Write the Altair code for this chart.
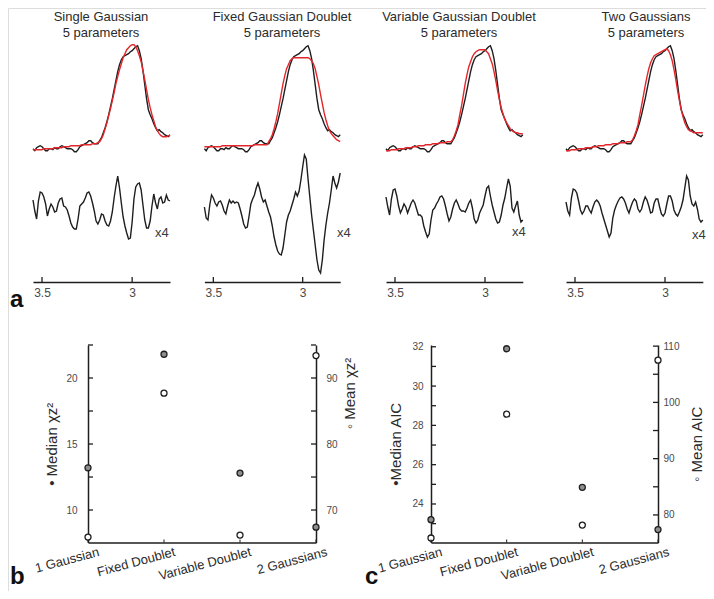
import altair as alt
import pandas as pd

# ---------------- data ----------------
PPM = [3.55, 3.54, 3.53, 3.52, 3.51, 3.50, 3.49, 3.48, 3.47, 3.46,
       3.45, 3.44, 3.43, 3.42, 3.41, 3.40, 3.39, 3.38, 3.37, 3.36,
       3.35, 3.34, 3.33, 3.32, 3.31, 3.30, 3.29, 3.28, 3.27, 3.26,
       3.25, 3.24, 3.23, 3.22, 3.21, 3.20, 3.19, 3.18, 3.17, 3.16,
       3.15, 3.14, 3.13, 3.12, 3.11, 3.10, 3.09, 3.08, 3.07, 3.06,
       3.05, 3.04, 3.03, 3.02, 3.01, 3.00, 2.99, 2.98, 2.97, 2.96,
       2.95, 2.94, 2.93, 2.92, 2.91, 2.90, 2.89, 2.88, 2.87, 2.86,
       2.85, 2.84, 2.83, 2.82, 2.81, 2.80, 2.79]

SPECTRUM = [-0.02, -0.04, -0.01, 0.00, 0.01, 0.00, -0.02, -0.04, -0.04, -0.02,
            -0.02, -0.03, -0.01, -0.02, -0.02, 0.00, 0.01, 0.00, -0.01, -0.02,
            -0.02, -0.02, -0.03, -0.05, -0.05, -0.03, 0.00, 0.01, 0.02, 0.03,
            0.04, 0.06, 0.06, 0.04, 0.03, 0.03, 0.03, 0.06, 0.09, 0.14,
            0.19, 0.25, 0.32, 0.40, 0.48, 0.57, 0.66, 0.75, 0.82, 0.87,
            0.90, 0.91, 0.92, 0.93, 0.95, 0.96, 0.98, 1.00, 1.01, 0.96,
            0.88, 0.76, 0.62, 0.48, 0.37, 0.32, 0.28, 0.23, 0.19, 0.16,
            0.17, 0.15, 0.14, 0.12, 0.11, 0.10, 0.12]

FIT_SINGLE = [-0.03, -0.03, -0.03, -0.03, -0.03, -0.03, -0.02, -0.02, -0.02, -0.02,
              -0.02, -0.02, -0.01, -0.01, -0.01, -0.01, -0.01, 0.00, 0.00, 0.00,
              0.00, 0.01, 0.01, 0.01, 0.01, 0.01, 0.01, 0.02, 0.02, 0.02,
              0.02, 0.02, 0.02, 0.03, 0.03, 0.03, 0.04, 0.05, 0.08, 0.12,
              0.18, 0.24, 0.31, 0.38, 0.46, 0.54, 0.63, 0.70, 0.77, 0.83,
              0.89, 0.93, 0.97, 0.99, 1.01, 1.02, 1.02, 1.00, 0.96, 0.91,
              0.85, 0.76, 0.67, 0.57, 0.47, 0.39, 0.32, 0.26, 0.20, 0.16,
              0.13, 0.11, 0.10, 0.10, 0.10, 0.11, 0.11]

FIT_FIXED = [0.00, 0.00, 0.00, 0.00, 0.00, 0.00, 0.00, 0.00, 0.00, 0.00,
             0.01, 0.01, 0.01, 0.01, 0.01, 0.01, 0.01, 0.01, 0.01, 0.01,
             0.01, 0.01, 0.01, 0.01, 0.01, 0.01, 0.01, 0.01, 0.02, 0.02,
             0.02, 0.02, 0.02, 0.02, 0.02, 0.02, 0.05, 0.08, 0.12, 0.18,
             0.25, 0.33, 0.43, 0.53, 0.63, 0.71, 0.78, 0.82, 0.86, 0.88,
             0.89, 0.89, 0.89, 0.89, 0.89, 0.89, 0.89, 0.89, 0.89, 0.88,
             0.86, 0.83, 0.78, 0.70, 0.62, 0.52, 0.43, 0.34, 0.27, 0.21,
             0.16, 0.13, 0.11, 0.09, 0.07, 0.06, 0.05]

FIT_VARIABLE = [-0.04, -0.04, -0.04, -0.03, -0.03, -0.03, -0.03, -0.02, -0.02, -0.02,
                -0.02, -0.01, -0.01, -0.01, -0.01, 0.00, 0.00, 0.00, 0.01, 0.01,
                0.01, 0.01, 0.02, 0.02, 0.02, 0.02, 0.03, 0.03, 0.03, 0.03,
                0.04, 0.04, 0.04, 0.04, 0.05, 0.05, 0.05, 0.07, 0.11, 0.16,
                0.22, 0.32, 0.41, 0.52, 0.63, 0.72, 0.80, 0.85, 0.90, 0.93,
                0.95, 0.96, 0.97, 0.97, 0.97, 0.97, 0.95, 0.93, 0.88, 0.83,
                0.75, 0.66, 0.56, 0.47, 0.39, 0.33, 0.27, 0.24, 0.21, 0.18,
                0.16, 0.15, 0.14, 0.14, 0.13, 0.13, 0.13]

FIT_TWO = [-0.04, -0.04, -0.04, -0.03, -0.03, -0.03, -0.03, -0.02, -0.02, -0.02,
           -0.02, -0.01, -0.01, -0.01, -0.01, 0.00, 0.00, 0.00, 0.01, 0.01,
           0.01, 0.01, 0.02, 0.02, 0.02, 0.02, 0.03, 0.03, 0.03, 0.03,
           0.04, 0.04, 0.04, 0.04, 0.05, 0.05, 0.05, 0.07, 0.11, 0.16,
           0.22, 0.32, 0.41, 0.51, 0.61, 0.70, 0.78, 0.84, 0.88, 0.91,
           0.92, 0.93, 0.94, 0.95, 0.96, 0.97, 0.98, 0.96, 0.92, 0.86,
           0.77, 0.67, 0.56, 0.46, 0.37, 0.30, 0.24, 0.20, 0.17, 0.16,
           0.15, 0.14, 0.14, 0.14, 0.14, 0.14, 0.14]

# residuals (already multiplied by 4, as drawn)
RES_SINGLE = [0.10, -0.01, -0.09, 0.09, 0.18, 0.17, 0.13, 0.06, -0.06, 0.01,
              0.06, 0.03, -0.02, -0.01, 0.07, 0.11, 0.12, 0.04, 0.03, 0.00,
              -0.06, -0.13, -0.17, -0.19, -0.19, -0.09, 0.04, 0.06, 0.08, 0.12,
              0.17, 0.18, 0.14, 0.07, -0.01, -0.11, -0.14, -0.10, -0.04, -0.05,
              -0.11, -0.15, -0.16, -0.11, -0.02, 0.12, 0.24, 0.34, 0.22, 0.07,
              -0.07, -0.16, -0.23, -0.29, -0.28, -0.12, 0.11, 0.23, 0.26, 0.27,
              0.20, 0.05, -0.10, -0.18, -0.18, -0.11, 0.04, 0.16, 0.07, 0.01,
              0.11, 0.13, 0.07, 0.08, 0.15, 0.10, 0.09]

RES_FIXED = [0.03, -0.08, -0.10, 0.05, 0.15, 0.12, 0.07, 0.04, 0.08, 0.09,
             0.05, -0.01, -0.04, 0.04, 0.10, 0.07, 0.09, 0.07, 0.08, 0.07,
             0.01, -0.06, -0.14, -0.18, -0.17, -0.06, 0.06, 0.11, 0.15, 0.22,
             0.27, 0.21, 0.13, 0.08, 0.10, 0.04, -0.02, -0.07, -0.16, -0.27,
             -0.35, -0.41, -0.44, -0.45, -0.38, -0.25, -0.12, -0.05, -0.01, 0.05,
             0.11, 0.18, 0.14, 0.19, 0.30, 0.43, 0.55, 0.51, 0.31, 0.13,
             -0.05, -0.20, -0.35, -0.50, -0.60, -0.63, -0.50, -0.30, -0.15, -0.03,
             0.07, 0.20, 0.34, 0.27, 0.22, 0.28, 0.37]

RES_VARIABLE = [0.13, 0.03, -0.05, 0.11, 0.20, 0.21, 0.14, 0.04, -0.03, 0.01,
                0.06, 0.03, -0.03, 0.02, 0.07, 0.10, 0.07, 0.01, -0.05, -0.05,
                -0.07, -0.16, -0.22, -0.27, -0.24, -0.10, 0.00, 0.02, 0.06, 0.09,
                0.13, 0.14, 0.11, 0.04, -0.04, -0.11, -0.07, 0.01, 0.07, 0.10,
                0.06, 0.01, -0.01, -0.01, -0.02, 0.02, 0.07, 0.10, 0.02, -0.09,
                -0.13, -0.10, -0.03, 0.01, 0.05, 0.14, 0.22, 0.24, 0.14, 0.05,
                -0.02, -0.09, -0.13, -0.12, -0.05, 0.05, 0.12, 0.22, 0.31, 0.24,
                0.02, -0.02, 0.04, 0.09, -0.05, -0.12, -0.10]

RES_TWO = [0.08, -0.01, -0.05, 0.12, 0.21, 0.20, 0.17, 0.09, 0.00, -0.04,
           -0.01, 0.04, 0.04, 0.00, -0.03, 0.03, 0.08, 0.10, 0.08, 0.04,
           -0.03, -0.09, -0.15, -0.21, -0.27, -0.23, -0.08, 0.00, 0.05, 0.09,
           0.12, 0.13, 0.11, 0.07, 0.01, -0.03, 0.03, 0.08, 0.11, 0.09,
           0.01, -0.02, 0.01, 0.08, 0.13, 0.10, 0.04, -0.03, -0.02, 0.07,
           0.11, 0.11, 0.03, -0.04, -0.06, -0.03, 0.06, 0.14, 0.14, 0.09,
           0.00, -0.04, -0.06, -0.02, 0.03, 0.10, 0.22, 0.34, 0.30, 0.14,
           0.06, 0.04, 0.08, 0.01, -0.09, -0.12, -0.10]

PANEL_TITLES = ["Single Gaussian", "Fixed Gaussian Doublet",
                "Variable Gaussian Doublet", "Two Gaussians"]
PANEL_SUBTITLE = "5 parameters"
RES_SCALE_LABEL = "x4"
PPM_TICKS = [3.5, 3.0]

MODELS = ["1 Gaussian", "Fixed Doublet", "Variable Doublet", "2 Gaussians"]
MEDIAN_CHI2 = [13.2, 21.8, 12.8, 8.7]
MEAN_CHI2 = [65.9, 87.7, 66.2, 93.4]
MEDIAN_AIC = [23.2, 31.9, 24.85, 22.7]
MEAN_AIC = [75.9, 97.9, 78.2, 107.5]

FITS = [FIT_SINGLE, FIT_FIXED, FIT_VARIABLE, FIT_TWO]
RESIDUALS = [RES_SINGLE, RES_FIXED, RES_VARIABLE, RES_TWO]

# ---------------- layout (pixels inside the canvas) ----------------
W, H = 698, 583
FONT = "Liberation Sans"
INK = "#1e1e1e"
RED = "#e3262c"
LABEL = "#4a4a4a"

PANEL_X = [(25, 162), (196.4, 332.2), (378, 514.8), (558, 694.8)]
TITLE_CX = [93, 274, 451, 638]
X4_POS = [(147, 229), (329, 229), (504, 228), (684, 231)]
SPEC_RANGE = [138.7, 38.7]
RES_RANGE = [202, 102]
AXIS_Y = 274

layers = []


def text_layer(txt, x, y, size=13, align="center", weight="normal", color="#2b2b2b",
               baseline="alphabetic", angle=0):
    return alt.Chart(pd.DataFrame({"t": [txt]})).mark_text(
        font=FONT, fontSize=size, align=align, baseline=baseline,
        fontWeight=weight, color=color, angle=angle
    ).encode(text="t:N", x=alt.value(x), y=alt.value(y))


for i in range(4):
    x0, x1 = PANEL_X[i]
    xs = alt.Scale(domain=[2.79, 3.55], range=[x1, x0], nice=False, zero=False)
    ys = alt.Scale(domain=[0, 1], range=SPEC_RANGE, nice=False, zero=False)
    rs = alt.Scale(domain=[0, 1], range=RES_RANGE, nice=False, zero=False)
    df = pd.DataFrame({"ppm": PPM, "spec": SPECTRUM, "fit": FITS[i], "res": RESIDUALS[i]})
    xaxis = alt.Axis(orient="bottom", offset=AXIS_Y - H, values=PPM_TICKS, format=".1~f",
                     ticks=False, tickSize=0, grid=False, title=None, domain=True,
                     domainColor=INK, domainWidth=1.4, labelFont=FONT, labelFontSize=12,
                     labelColor=LABEL, labelPadding=5)
    layers.append(alt.Chart(df).mark_line(color=INK, strokeWidth=1.4).encode(
        x=alt.X("ppm:Q", scale=xs, axis=xaxis),
        y=alt.Y("spec:Q", scale=ys, axis=None)))
    layers.append(alt.Chart(df).mark_line(color=RED, strokeWidth=1.4).encode(
        x=alt.X("ppm:Q", scale=xs, axis=None),
        y=alt.Y("fit:Q", scale=ys, axis=None)))
    layers.append(alt.Chart(df).mark_line(color=INK, strokeWidth=1.4).encode(
        x=alt.X("ppm:Q", scale=xs, axis=None),
        y=alt.Y("res:Q", scale=rs, axis=None)))
    layers.append(alt.Chart(pd.DataFrame({"ppm": PPM_TICKS})).mark_rule(
        color=INK, strokeWidth=1.3).encode(
        x=alt.X("ppm:Q", scale=xs, axis=None),
        y=alt.value(AXIS_Y - 5), y2=alt.value(AXIS_Y)))
    layers.append(text_layer(PANEL_TITLES[i], TITLE_CX[i], 13))
    layers.append(text_layer(PANEL_SUBTITLE, TITLE_CX[i], 29))
    layers.append(text_layer(RES_SCALE_LABEL, X4_POS[i][0], X4_POS[i][1], align="left",
                             color="#3a3a3a"))

# ---------------- panels b and c ----------------
Y_BOT, Y_TOP = 534.5, 337


def dual_panel(xa, xb, med, mean, ldom, rdom, lticks, llabels, rticks, rlabels,
               ltitle, rtitle, lpad, rpad, ltpad, rtpad, rtitle_y=None):
    xs = alt.Scale(type="point", domain=MODELS, range=[xa, xb], padding=0)
    ls = alt.Scale(domain=ldom, range=[Y_BOT, Y_TOP], nice=False, zero=False)
    rs = alt.Scale(domain=rdom, range=[Y_BOT, Y_TOP], nice=False, zero=False)
    df = pd.DataFrame({"model": MODELS, "med": med, "mean": mean})
    xaxis = alt.Axis(orient="bottom", offset=Y_BOT - H, ticks=False, tickSize=0, grid=False,
                     title=None, domainColor=INK, domainWidth=1.5, labelAngle=-15,
                     labelAlign="right", labelBaseline="top", labelOffset=9,
                     labelPadding=3, labelFont=FONT, labelFontSize=13, labelColor="#2b2b2b")
    laxis = alt.Axis(orient="left", offset=-xa, values=llabels, ticks=False, tickSize=0,
                     grid=False, domainColor=INK, domainWidth=1.5, labelFont=FONT,
                     labelFontSize=10, labelColor=LABEL, labelPadding=lpad,
                     title=ltitle, titleFont=FONT, titleFontSize=15,
                     titleFontWeight="normal", titleColor="#2b2b2b", titlePadding=ltpad)
    raxis_kw = dict(orient="right", offset=xb - W, values=rlabels, ticks=False, tickSize=0,
                    grid=False, domainColor=INK, domainWidth=1.5, labelFont=FONT,
                    labelFontSize=10, labelColor=LABEL, labelPadding=rpad,
                    title=rtitle, titleFont=FONT, titleFontSize=15, titleAngle=270,
                    titleBaseline="top",
                    titleFontWeight="normal", titleColor="#2b2b2b", titlePadding=rtpad)
    if rtitle_y is not None:
        raxis_kw["titleY"] = rtitle_y
    raxis = alt.Axis(**raxis_kw)
    out = []
    out.append(alt.Chart(df).mark_point(shape="circle", filled=True, fill="#8e8e8e",
                                        stroke=INK, strokeWidth=1.3, size=36, opacity=1).encode(
        x=alt.X("model:N", scale=xs, axis=xaxis, sort=MODELS),
        y=alt.Y("med:Q", scale=ls, axis=laxis)))
    out.append(alt.Chart(df).mark_point(shape="circle", filled=True, fill="white",
                                        stroke=INK, strokeWidth=1.3, size=36, opacity=1).encode(
        x=alt.X("model:N", scale=xs, axis=None, sort=MODELS),
        y=alt.Y("mean:Q", scale=rs, axis=raxis)))
    out.append(alt.Chart(pd.DataFrame({"v": lticks})).mark_rule(color=INK, strokeWidth=1.3).encode(
        y=alt.Y("v:Q", scale=ls, axis=None), x=alt.value(xa), x2=alt.value(xa + 5)))
    out.append(alt.Chart(pd.DataFrame({"v": rticks})).mark_rule(color=INK, strokeWidth=1.3).encode(
        y=alt.Y("v:Q", scale=rs, axis=None), x=alt.value(xb - 5), x2=alt.value(xb)))
    out.append(alt.Chart(pd.DataFrame({"model": MODELS})).mark_rule(color=INK, strokeWidth=1).encode(
        x=alt.X("model:N", scale=xs, axis=None, sort=MODELS),
        y=alt.value(Y_BOT - 3), y2=alt.value(Y_BOT)))
    return out


layers += dual_panel(80, 308, MEDIAN_CHI2, MEAN_CHI2,
                     [7.54, 22.5], [65.08, 95],
                     [10, 12.5, 15, 17.5, 20, 22.5], [10, 15, 20],
                     [70, 75, 80, 85, 90, 95], [70, 80, 90],
                     "\u2022 Median \u03c7z\u00b2", "\u25e6 Mean \u03c7z\u00b2",
                     11, 10, 6, 5, rtitle_y=385)
layers += dual_panel(423, 650, MEDIAN_AIC, MEAN_AIC,
                     [22.04, 32.09], [75.1, 110.2],
                     [23, 24, 25, 26, 27, 28, 29, 30, 31, 32], [24, 26, 28, 30, 32],
                     [80, 85, 90, 95, 100, 105, 110], [80, 90, 100, 110],
                     "\u2022Median AIC", "\u25e6 Mean AIC",
                     8, 5, 8, 10)

# panel letters
layers.append(text_layer("a", 2, 299, size=24, align="left", weight="bold", color="#111"))
layers.append(text_layer("b", 2, 576, size=24, align="left", weight="bold", color="#111"))
layers.append(text_layer("c", 357, 576, size=24, align="left", weight="bold", color="#111"))

chart = alt.layer(*layers).resolve_scale(
    x="independent", y="independent"
).properties(
    width=W, height=H, padding=0,
    autosize=alt.AutoSizeParams(type="none")
).configure_view(stroke=None).configure(background="white")

chart.save("out.html", embed_options={"renderer": "svg", "actions": False})
